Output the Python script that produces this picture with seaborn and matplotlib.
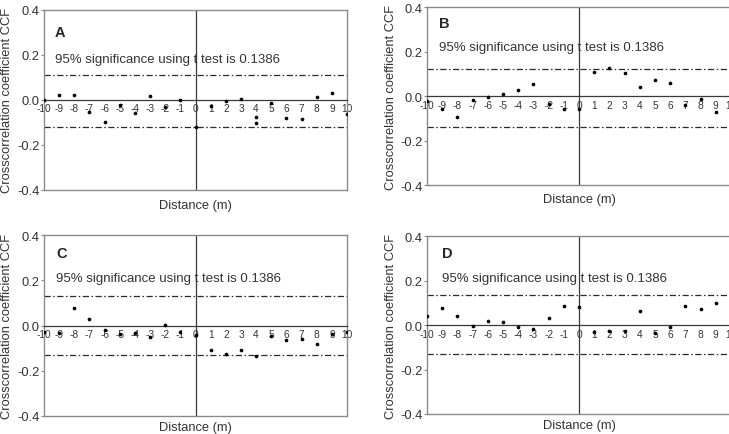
import matplotlib
matplotlib.use("Agg")
import matplotlib.pyplot as plt
import seaborn as sns
import pandas as pd

# lag distances (m)
lags = list(range(-10, 11))
lags_a = [-10, -9, -8, -7, -6, -5, -4, -3, -2, -1, 0, 1, 2, 3, 4, 4, 5, 6, 7, 8, 9, 10]

ccf_a = [0.0, 0.022, 0.022, -0.053, -0.099, -0.022, -0.057, 0.016, -0.033, 0.0, -0.118,
         -0.027, -0.003, 0.005, -0.075, -0.103, -0.013, -0.078, -0.084, 0.013, 0.03, -0.063]
ccf_b = [-0.023, -0.057, -0.096, -0.02, -0.005, 0.011, 0.027, 0.056, -0.035, -0.057, -0.06,
         0.107, 0.125, 0.105, 0.041, 0.072, 0.059, -0.041, -0.015, -0.072, -0.03]
ccf_c = [-0.03, -0.031, 0.076, 0.028, -0.022, -0.036, -0.033, -0.049, 0.001, -0.03, -0.04,
         -0.11, -0.124, -0.108, -0.133, -0.045, -0.062, -0.061, -0.081, -0.036, -0.03]
ccf_d = [0.04, 0.075, 0.04, -0.003, 0.016, 0.012, -0.007, -0.019, 0.031, 0.085, 0.081,
         -0.033, -0.028, -0.025, 0.064, -0.036, -0.007, 0.084, 0.073, 0.097, 0.015]

# drawn significance bands (upper, lower)
sig_a = [0.11, -0.12]
sig_b = [0.12, -0.138]
sig_c = [0.13, -0.132]
sig_d = [0.136, -0.129]

panel_names = ["A", "B", "C", "D"]
sig_text = "95% significance using t test is 0.1386"

sns.set_style("white")
plt.rcParams["font.family"] = ["Liberation Sans", "DejaVu Sans"]
plt.rcParams["axes.unicode_minus"] = False

fig = plt.figure(figsize=(7.29, 4.35), dpi=100)

# axes rect, letter y, text y, text x, ylabel x, xlabel y
layout = [
    ([0.0604, 0.561, 0.4156, 0.4138], 0.875, 0.73, 0.036, -0.102, -0.05),
    ([0.5857, 0.5724, 0.417, 0.409], 0.91, 0.774, 0.04, -0.10, -0.045),
    ([0.0604, 0.0414, 0.4156, 0.416], 0.902, 0.76, 0.04, -0.102, -0.03),
    ([0.5857, 0.046, 0.417, 0.409], 0.906, 0.762, 0.05, -0.10, -0.03),
]

data = [(lags_a, ccf_a, sig_a), (lags, ccf_b, sig_b), (lags, ccf_c, sig_c), (lags, ccf_d, sig_d)]
frame_col = "#8a8a8a"
line_col = "#3a3a3a"
txt_col = "#333333"

for (xs, ys, sig), name, (rect, ly, ty, tx, ylx, xly) in zip(data, panel_names, layout):
    ax = fig.add_axes(rect)
    df = pd.DataFrame({"lag": xs, "ccf": ys})
    ax.axvline(0, color=line_col, lw=0.9, zorder=1)
    for s in sig:
        ax.axhline(s, color="#2a2a2a", lw=0.9, ls=(0, (5, 2, 1.2, 2)), zorder=1)
    sns.scatterplot(data=df, x="lag", y="ccf", ax=ax, color="black", s=7,
                    linewidth=0, zorder=3, legend=False)
    ax.set_xlim(-10, 10)
    ax.set_ylim(-0.4, 0.4)

    ax.spines["bottom"].set_position(("data", 0))
    ax.spines["bottom"].set_color(line_col)
    ax.spines["bottom"].set_linewidth(0.9)
    for side in ["left", "right", "top"]:
        ax.spines[side].set_color(frame_col)
        ax.spines[side].set_linewidth(1.0)
    ax.plot([0, 1], [0, 0], transform=ax.transAxes, color=frame_col, lw=1.0, clip_on=False)

    ax.set_xticks(lags)
    ax.set_xticklabels([str(v) for v in lags], fontsize=7.3, color=txt_col)
    ax.tick_params(axis="x", direction="in", length=2.5, pad=2.5, color=line_col)
    ax.set_yticks([-0.4, -0.2, 0.0, 0.2, 0.4])
    ax.set_yticklabels(["-0.4", "-0.2", "0.0", "0.2", "0.4"], fontsize=9.3, color=txt_col)
    ax.tick_params(axis="y", direction="out", length=2, pad=1, color=frame_col, left=True)

    ax.set_xlabel("Distance (m)", fontsize=9.3, color=txt_col)
    ax.xaxis.set_label_coords(0.5, xly)
    ax.set_ylabel("Crosscorrelation coefficient CCF", fontsize=9.3, color=txt_col)
    ax.yaxis.set_label_coords(ylx, 0.5)

    ax.text(tx, ly, name, transform=ax.transAxes, fontsize=10.5, fontweight="bold",
            ha="left", va="center")
    ax.text(tx, ty, sig_text, transform=ax.transAxes, fontsize=9.5, color=txt_col,
            ha="left", va="center")

fig.savefig("out.png", dpi=100)
